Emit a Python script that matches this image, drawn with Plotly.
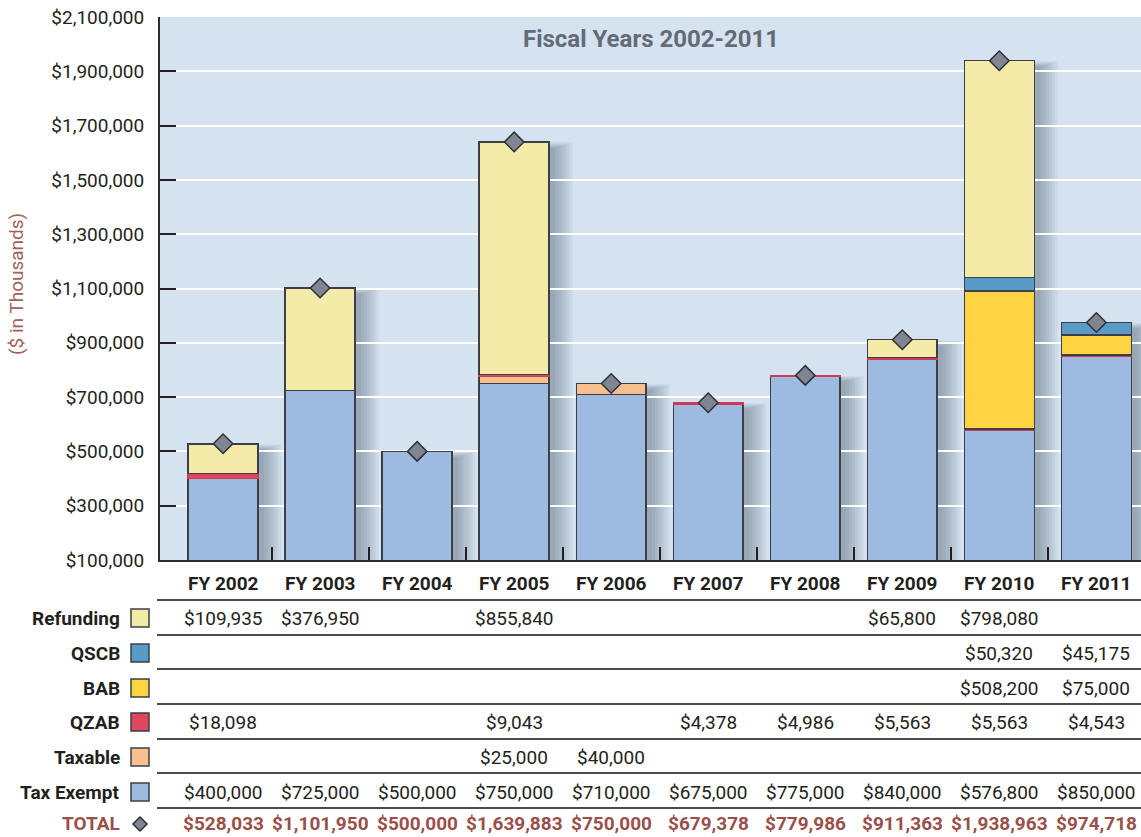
import plotly.graph_objects as go

# Bond issuance by program, $ in thousands
years = ["FY 2002", "FY 2003", "FY 2004", "FY 2005", "FY 2006",
         "FY 2007", "FY 2008", "FY 2009", "FY 2010", "FY 2011"]
tax_exempt = [400000, 725000, 500000, 750000, 710000, 675000, 775000, 840000, 576800, 850000]
taxable = [None, None, None, 25000, 40000, None, None, None, None, None]
qzab = [18098, None, None, 9043, None, 4378, 4986, 5563, 5563, 4543]
bab = [None, None, None, None, None, None, None, None, 508200, 75000]
qscb = [None, None, None, None, None, None, None, None, 50320, 45175]
refunding = [109935, 376950, None, 855840, None, None, None, 65800, 798080, None]
totals = [528033, 1101950, 500000, 1639883, 750000, 679378, 779986, 911363, 1938963, 974718]

# (name, values, fill, outline)
series = [
    ("Tax Exempt", tax_exempt, "#9DBBE0", "#3C3F45"),
    ("Taxable", taxable, "#F8C08F", "#3C3F45"),
    ("QZAB", qzab, "#DD4760", "#D03A55"),
    ("BAB", bab, "#FFD342", "#3C3F45"),
    ("QSCB", qscb, "#5A9AC6", "#3C3F45"),
    ("Refunding", refunding, "#F4EBA8", "#3C3F45"),
]

FONT = "Roboto, Liberation Sans, sans-serif"
INK = "#231F20"
OUTLINE = "#3C3F45"
TOTAL_RED = "#9A4F4A"
FS = 19

W, H = 1141, 837
L, R, T, B = 160, 1141, 17, 560
Y0, Y1 = 100000, 2100000
X0, X1 = -0.65, 9.46
BAR_W = 0.72

xs = list(range(len(years)))


def py(ypx):
    return (B - ypx) / (B - T)


def px(xpx):
    return (xpx - L) / (R - L)


fig = go.Figure()

# soft drop shadow behind each bar
x_per_px = (X1 - X0) / (R - L)
y_per_px = (Y1 - Y0) / (B - T)
shapes = []
for i, tot in enumerate(totals):
    for k in range(1, 8):
        dx = (3 + k * 1.4) * x_per_px
        grow = k * 1.5 * x_per_px
        shapes.append(dict(
            type="rect", xref="x", yref="y", layer="below",
            x0=i - BAR_W / 2 + dx - grow, x1=i + BAR_W / 2 + dx + grow,
            y0=0, y1=tot - (7 - k * 0.9) * y_per_px,
            fillcolor="rgba(45,55,75,0.055)", line=dict(width=0),
        ))

for name, vals, color, edge in series:
    fig.add_trace(go.Bar(
        x=xs, y=vals, name=name, width=BAR_W,
        marker=dict(color=color, line=dict(color=edge, width=1.5)),
        showlegend=False,
    ))

fig.add_trace(go.Scatter(
    x=xs, y=totals, mode="markers", showlegend=False,
    marker=dict(symbol="diamond", size=15, color="#7F8591",
                line=dict(color="#2E3035", width=1.5)),
    cliponaxis=False,
))

annotations = []


def note(text, x, y, xref="paper", size=FS, color=INK, xanchor="center", **kw):
    annotations.append(dict(
        text=text, xref=xref, yref="paper", x=x, y=y,
        xanchor=xanchor, yanchor="middle", showarrow=False,
        font=dict(family=FONT, size=size, color=color), **kw,
    ))


# title inside the plot
note("<b>Fiscal Years 2002-2011</b>", px(651), py(39), size=24, color="#646A78")

# y-axis title
note("($ in Thousands)", px(16), py(284), size=19, color="#A2625C", textangle=-90)

# category header row
for i, yr in enumerate(years):
    note(f"<b>{yr}</b>", i, py(583), xref="x")

# data table rows
row_y = {"Refunding": 618, "QSCB": 653, "BAB": 688, "QZAB": 722,
         "Taxable": 757, "Tax Exempt": 792}
row_lines = [600, 635, 669, 704, 739, 773, 808]
total_y = 823

for name, vals, color, _ in series:
    yy = row_y[name]
    note(f"<b>{name}</b>", px(122), py(yy), xanchor="right")
    shapes.append(dict(
        type="rect", xref="paper", yref="paper",
        x0=px(131), x1=px(149), y0=py(yy + 9), y1=py(yy - 9),
        fillcolor=color, line=dict(color=OUTLINE, width=1.5),
    ))
    for i, v in enumerate(vals):
        if v is not None:
            note(f"${v:,}", i, py(yy), xref="x")

# total row
note("<b>TOTAL</b>", px(122), py(total_y), color=TOTAL_RED, xanchor="right")
cx, cy, d = 140, 824, 7
shapes.append(dict(
    type="path", xref="paper", yref="paper",
    path=(f"M {px(cx)} {py(cy - d)} L {px(cx + d)} {py(cy)} "
          f"L {px(cx)} {py(cy + d)} L {px(cx - d)} {py(cy)} Z"),
    fillcolor="#7F8591", line=dict(color="#2E3035", width=1.5),
))
for i, v in enumerate(totals):
    note(f"<b>${v:,}</b>", i, py(total_y), xref="x", color=TOTAL_RED)

for yl in row_lines:
    shapes.append(dict(
        type="line", xref="paper", yref="paper",
        x0=px(157), x1=1, y0=py(yl), y1=py(yl),
        line=dict(color="#4A4A4F", width=2),
    ))

fig.update_layout(
    width=W, height=H,
    margin=dict(l=L, r=W - R, t=T, b=H - B),
    barmode="stack", bargap=0.28,
    paper_bgcolor="white", plot_bgcolor="#D5E2F0",
    font=dict(family=FONT, size=FS, color=INK),
    shapes=shapes, annotations=annotations,
    xaxis=dict(
        range=[X0, X1], tickvals=[i + 0.5 for i in range(len(years) - 1)],
        showticklabels=False, ticks="inside", ticklen=13, tickwidth=2,
        tickcolor=INK, showgrid=False, zeroline=False,
        showline=True, linecolor="#2E2E30", linewidth=2,
    ),
    yaxis=dict(
        range=[Y0, Y1], dtick=200000, tick0=100000,
        tickprefix="$", tickformat=",",
        ticks="inside", ticklen=16, tickwidth=2, tickcolor=INK,
        ticklabelstandoff=10,
        showgrid=True, gridcolor="white", gridwidth=2, zeroline=False,
        showline=True, linecolor="#2E2E30", linewidth=2,
        tickfont=dict(family=FONT, size=FS, color=INK),
    ),
)

fig.write_html("out.html")
